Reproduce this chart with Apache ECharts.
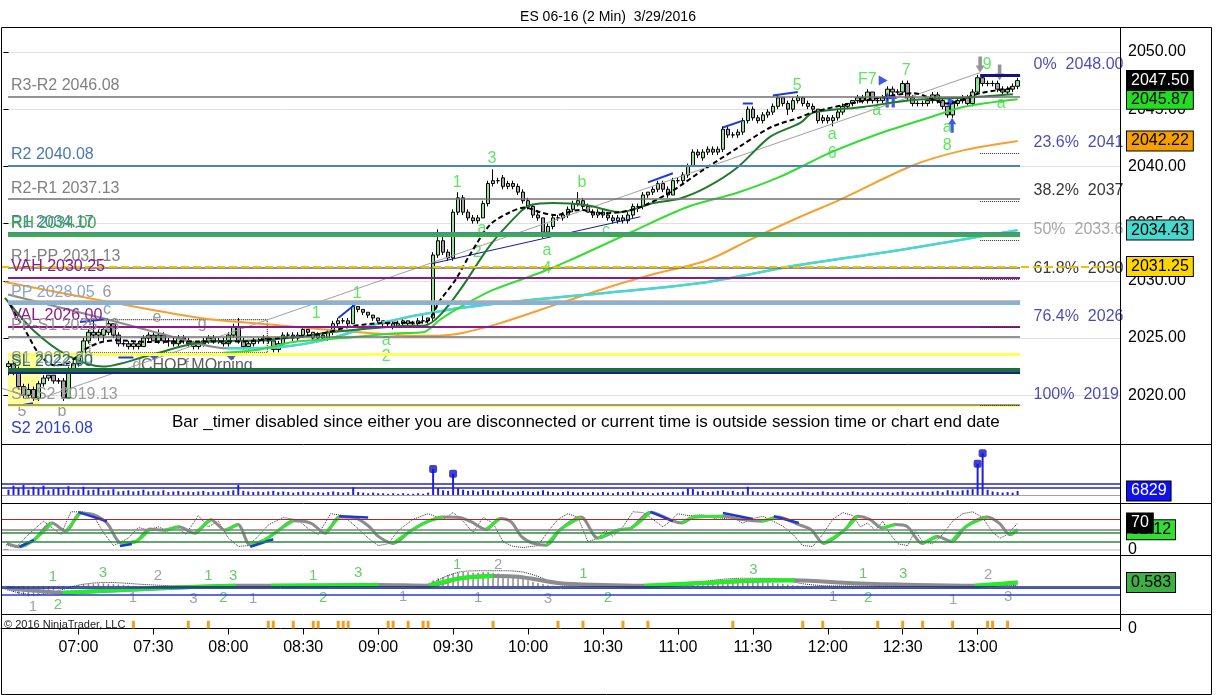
<!DOCTYPE html>
<html>
<head>
<meta charset="utf-8">
<title>ES 06-16 (2 Min)</title>
<script src="https://cdn.jsdelivr.net/npm/echarts@6.0.0/dist/echarts.min.js"></script>
<style>
html,body{margin:0;padding:0;background:#fff;}
#chart{width:1216px;height:695px;}
</style>
</head>
<body>
<div id="chart"></div>
<script>
// ================= DATA =================
const TITLE = 'ES 06-16 (2 Min)  3/29/2016';
const TIME_TICKS = ['07:00','07:30','08:00','08:30','09:00','09:30','10:00','10:30','11:00','11:30','12:00','12:30','13:00'];
const SESSION_START = '06:30';
const SLOT_MINUTES = 2;
const SLOT_COUNT = 224;
const FIRST_BAR_SLOT = 1;
const PRICE_TICKS = [2020, 2025, 2030, 2035, 2040, 2045, 2050];

// 2-minute bars: [open, high, low, close]
const BARS = [
[2022.5,2023,2021.75,2022.75],[2022.75,2023,2021.75,2022.25],[2022.25,2022.5,2020.5,2020.75],[2020.75,2021,2019.75,2020],[2020,2021,2019.75,2020.5],
[2020.5,2020.75,2019.5,2019.75],[2019.75,2021.25,2019.5,2021],[2021,2021.75,2020.75,2021.5],[2021.5,2021.75,2021.25,2021.75],[2021.75,2021.75,2021,2021.25],
[2021.25,2021.5,2021,2021.25],[2021.25,2021.5,2019.5,2019.75],[2019.75,2022.5,2019.75,2022.25],[2022.25,2023,2022,2022.75],[2022.75,2023.75,2022.5,2023.5],
[2023.5,2025,2023.5,2024.75],[2024.75,2025.75,2024.5,2025.5],[2025.5,2026.5,2025,2025.25],[2025.25,2025.75,2024.75,2025.5],[2025.25,2026,2024.75,2025.75],
[2025.5,2026.5,2025.25,2026.25],[2026.25,2026.25,2025,2025.25],[2025.25,2025.5,2024.25,2024.5],[2024.5,2024.75,2024.25,2024.5],[2024.5,2024.75,2024,2024.25],
[2024.25,2024.75,2024,2024.5],[2024.5,2024.75,2024,2024.25],[2024.25,2025.25,2024.25,2025],[2025,2025.5,2024.75,2025.25],[2025.25,2025.5,2024.75,2024.75],
[2024.75,2025.75,2024.5,2025.25],[2025.25,2025.5,2024.5,2024.75],[2024.75,2025,2024.25,2024.75],[2024.75,2025,2024.25,2024.5],[2024.5,2025.25,2024.25,2025],
[2025,2025.25,2024.5,2024.75],[2024.75,2025,2024.25,2024.5],[2024.5,2024.75,2024,2024.25],[2024.25,2024.75,2024,2024.5],[2024.5,2025,2024.25,2024.75],
[2024.75,2025.25,2024.5,2025],[2025,2025.25,2024.5,2024.75],[2024.75,2025,2024.5,2024.75],[2024.75,2025,2024.25,2024.5],[2024.5,2025.5,2024.25,2025.25],
[2025.25,2026.25,2025,2026],[2026,2026.75,2024.5,2024.75],[2024.75,2025,2024,2024.25],[2024.25,2024.75,2024,2024.5],[2024.5,2025,2024.25,2024.75],
[2024.75,2025,2024.5,2024.75],[2024.75,2025.25,2024.5,2025],[2025,2025,2024.5,2024.75],[2024.75,2024.75,2023.75,2024],[2024,2024.75,2023.75,2024.5],
[2024.5,2025.5,2024.25,2025.25],[2025.25,2025.5,2025,2025.25],[2025.25,2025.5,2024.75,2025],[2025,2025.5,2024.75,2025.25],[2025.25,2026,2025,2025.75],
[2025.75,2026,2025.25,2025.5],[2025.5,2025.5,2024.75,2025],[2025,2025.5,2024.75,2025.25],[2025.25,2025.5,2024.75,2025],[2025,2025.75,2024.75,2025.5],
[2025.5,2026.5,2025.25,2026.25],[2026.25,2026.75,2026,2026.5],[2026.5,2026.75,2026.25,2026.5],[2026.5,2026.75,2026,2026.25],[2026.25,2028,2026.25,2027.75],
[2027.75,2027.75,2027.25,2027.5],[2027.5,2027.5,2027,2027.25],[2027.25,2027.25,2026.75,2027],[2027,2027,2026.5,2026.75],[2026.75,2026.75,2026.25,2026.5],
[2026.5,2026.5,2026,2026.25],[2026.25,2026.5,2026,2026.25],[2026.25,2026.5,2025.75,2026],[2026,2026.5,2026,2026.25],[2026.25,2026.75,2026,2026.5],
[2026.5,2026.5,2026,2026.25],[2026.25,2026.5,2026,2026.25],[2026.25,2026.75,2026,2026.5],[2026.5,2027,2026.25,2026.5],[2026.5,2026.75,2026.25,2026.75],
[2026.75,2032.5,2026.5,2032.25],[2032.25,2034.5,2032,2033.5],[2033.5,2034.25,2032.25,2032.5],[2032.5,2032.75,2031.75,2032],[2032,2036.25,2031.75,2036],
[2036,2037.75,2035.75,2037.25],[2037.25,2037.5,2035.75,2036],[2036,2036.25,2035.25,2035.5],[2035.5,2035.75,2035,2035.25],[2035.25,2035.75,2035,2035.5],
[2035.5,2037,2035.5,2036.75],[2036.75,2038.75,2036.5,2038.5],[2038.5,2039.75,2038.25,2038.75],[2038.75,2039,2038.5,2038.75],[2039,2039.25,2038,2038.25],
[2038.25,2038.75,2038,2038.5],[2038.5,2038.75,2038,2038.25],[2038.25,2038.5,2037.5,2037.75],[2037.75,2038,2036.75,2037],[2037,2037.25,2036.25,2036.5],
[2036.5,2036.75,2035.5,2035.75],[2035.75,2036,2035.25,2035.5],[2035.5,2035.5,2033.75,2034.25],[2034.25,2035,2034,2034.75],[2034.75,2035.75,2034.5,2035.5],
[2035.5,2035.75,2035.25,2035.5],[2035.5,2036,2035.25,2035.75],[2035.75,2036.5,2035.5,2036.25],[2036.25,2037,2036,2036.75],[2036.75,2037.75,2036.5,2037],
[2037,2037.25,2036.25,2036.5],[2036.5,2036.75,2036,2036],[2036,2036.25,2035.5,2035.75],[2035.75,2036.25,2035.5,2036],[2036,2036.25,2035.5,2035.75],
[2035.75,2036,2035.25,2035.5],[2035.5,2035.75,2035,2035.25],[2035.25,2035.75,2035,2035.5],[2035.5,2035.75,2035,2035.25],[2035.25,2036,2035,2035.75],
[2035.75,2036.75,2035.5,2036.5],[2036.5,2036.75,2036,2036.5],[2036.5,2037.75,2036.25,2037.5],[2037.5,2037.75,2037.25,2037.75],[2037.75,2038.25,2037.5,2038],
[2038,2038.75,2037.75,2038.5],[2038.5,2038.75,2037.75,2038],[2038,2038.25,2037.25,2037.5],[2037.5,2039,2037.5,2038.75],[2038.75,2039,2038.5,2038.75],
[2038.75,2039.5,2038.5,2039.25],[2039.25,2040.25,2039,2040],[2040,2041.5,2040,2041.25],[2041.25,2041.5,2040.75,2041],[2040.75,2041.5,2040.5,2041.25],
[2041.25,2041.75,2041,2041.5],[2041.5,2041.75,2041,2041.25],[2041.25,2041.75,2041,2041.5],[2041.5,2043.5,2041.25,2043.25],[2043.25,2043.5,2042.5,2042.75],
[2042.75,2043,2042.5,2042.75],[2042.75,2043.25,2042.5,2043],[2043,2044.25,2042.75,2044],[2044,2045.25,2043.75,2045],[2045,2045.25,2044,2044.25],
[2044.25,2044.5,2043.75,2044],[2044,2044.75,2043.75,2044.5],[2044.5,2045,2044.25,2044.75],[2044.75,2045.5,2044.5,2045.25],[2045.25,2046.25,2045,2046],
[2046,2046,2045.25,2045.5],[2045.5,2045.75,2044.5,2045],[2045,2046,2044.75,2045.75],[2045.75,2046.25,2045.5,2046],[2046,2046,2045.25,2045.5],
[2045.5,2045.75,2045,2045.25],[2045.25,2045.5,2044.75,2045],[2045,2045,2043.75,2044],[2044,2044.5,2043.75,2044.25],[2044.25,2044.5,2043.75,2044],
[2044,2044.5,2043.5,2044.25],[2044.25,2045,2044,2044.75],[2044.75,2045.5,2044.5,2045.25],[2045.25,2045.5,2045,2045.5],[2045.5,2045.75,2045.25,2045.75],
[2045.75,2046.25,2045.5,2046],[2046,2046.25,2045.5,2045.75],[2045.75,2046.75,2045.5,2046.5],[2046.5,2046.5,2045.5,2045.75],[2045.75,2046,2045.5,2045.75],
[2045.75,2046.25,2045.5,2046],[2046,2047,2045.75,2046.75],[2046.75,2047,2046.25,2046.5],[2046.5,2046.75,2046.25,2046.5],[2046.5,2047.5,2046.25,2047.25],
[2047.25,2047.5,2045.75,2046],[2046,2046.25,2045.25,2045.5],[2045.5,2045.75,2045.25,2045.5],[2045.5,2045.75,2045.25,2045.5],[2045.5,2046,2045.25,2045.75],
[2045.75,2046.5,2045.5,2046.25],[2046.25,2046.5,2045.5,2045.75],[2045.75,2046,2045,2045.25],[2045.25,2045.25,2044.25,2044.5],[2044.5,2045.75,2044.25,2045.5],
[2045.5,2046,2045.25,2045.75],[2045.75,2046.25,2045.5,2046],[2046,2046.25,2045.25,2045.5],[2045.5,2046.75,2045.25,2046.5],[2046.5,2048,2046.25,2047.75],
[2047.75,2048,2047,2047.25],[2047.25,2047.5,2047,2047.25],[2047.25,2047.5,2047,2047.25],[2047.25,2047.5,2046.5,2046.75],[2046.75,2047,2046.25,2046.5],
[2046.5,2047,2046.25,2046.75],[2046.75,2047.25,2046.5,2047],[2047,2047.75,2046.75,2047.5]
];

const VOLUME = [
9000,16000,12000,17000,9000,14000,11000,16000,8000,10000,12000,9000,15000,8000,9000,
14000,8000,9000,12000,7000,8000,10000,6000,7000,8000,6000,7000,9000,6000,7000,
6000,8000,5000,6000,7000,5000,6000,5000,6000,7000,5000,6000,5000,6000,7000,
8000,17000,7000,6000,5000,6000,5000,6000,7000,5000,6000,5000,4000,5000,6000,
5000,4000,5000,4000,5000,6000,5000,4000,5000,13000,5000,4000,3000,4000,3000,
3000,2000,3000,2000,3000,2000,2000,3000,2000,4000,
44000,12000,8000,7000,36000,12000,9000,7000,8000,6000,9000,8000,7000,6000,8000,
6000,5000,6000,7000,6000,5000,6000,8000,6000,5000,4000,5000,6000,5000,4000,
5000,4000,5000,4000,5000,4000,3000,5000,4000,5000,6000,4000,5000,4000,3000,
4000,5000,4000,5000,4000,6000,11000,10000,6000,7000,5000,6000,7000,8000,6000,
7000,5000,6000,14000,6000,5000,4000,5000,4000,5000,4000,5000,4000,5000,6000,
5000,4000,5000,6000,5000,4000,5000,4000,5000,6000,5000,4000,5000,4000,5000,
4000,5000,4000,5000,6000,5000,4000,5000,6000,5000,6000,7000,5000,8000,7000,
6000,8000,9000,10000,53000,71000,9000,6000,5000,4000,5000,4000,6829
];
const VOLUME_LEVELS = [19900, 13100];

// moving averages read at points: [slot, price]
const MA_FAST = [[1.3,2027.9],[4.3,2025.7],[7.3,2023.5],[10.3,2022.6],[13.3,2022.9],[16.3,2024.0],[19.3,2024.6],[22.3,2024.8],[29.3,2024.65],[39.3,2024.7],[47.4,2024.7],[55.4,2025.0],[63.4,2025.35],[69.4,2026.0],[75.4,2026.3],[84.4,2026.4],[87.4,2028.3],[90.5,2030.1],[93.4,2032.3],[97.4,2034.9],[101.4,2036.0],[104.4,2036.4],[107.4,2036.0],[110.4,2035.75],[115.4,2036.2],[119.4,2035.9],[123.4,2036.0],[127.3,2036.4],[133.3,2037.7],[140.1,2039.7],[146.9,2041.6],[153.5,2043.4],[159.5,2044.3],[162.1,2044.75],[168.5,2045.4],[175.5,2046.0],[182.1,2046.4],[188.9,2045.5],[195.5,2046.4],[202.2,2046.85]];
const MA_MID = [[0.3,2028.5],[5.9,2025.7],[12.7,2023.5],[19.9,2022.5],[29.3,2023.5],[39.3,2024.6],[51.4,2024.8],[59.4,2025.1],[65.4,2025.5],[79.4,2026.05],[84.4,2026.1],[87.4,2027.0],[91.4,2029.2],[97.4,2033.1],[103.4,2036.0],[105.4,2036.6],[110,2036.8],[116.8,2036.6],[123.4,2036.0],[130.1,2036.8],[135.5,2037.2],[140.9,2038.2],[146.9,2039.9],[153.5,2042.6],[159.5,2043.8],[162.1,2044.7],[172.1,2045.2],[182.1,2045.8],[192.1,2046.0],[202.1,2046.3]];
const MA_SLOW = [[44,2023.7],[51.4,2024.0],[58,2024.65],[68,2025.0],[78,2025.4],[84,2025.5],[87.4,2026.6],[91.4,2027.7],[98,2029.2],[107.4,2030.7],[113.4,2031.8],[125.4,2034.2],[136.9,2036.45],[146.9,2037.7],[155.5,2039.1],[165.5,2041.2],[175.5,2042.9],[185.5,2044.3],[192.1,2045.2],[203,2045.87]];
const MA_ORANGE = [[0.3,2029.9],[19.3,2028.3],[39.3,2026.75],[55.4,2026.1],[65.4,2025.7],[79.4,2025.25],[85.4,2025.2],[91.4,2025.4],[99.4,2026.3],[107.4,2027.45],[119.4,2029.2],[129.5,2030.5],[140.9,2031.8],[149.5,2033.6],[159.5,2035.6],[167.5,2037.1],[182.1,2040.1],[192.1,2041.4],[203,2042.22]];
const MA_LONG = [[0.9,2028.8],[19.3,2026.8],[32.7,2025.25],[44.7,2024.1],[55,2024.2],[65,2024.9],[75.4,2026.3],[89.4,2027.5],[107.4,2028.4],[119.4,2028.9],[139.5,2029.8],[159.5,2031.4],[179.5,2032.7],[203,2034.43]];

// trend lines [slot, price]
const TREND_GRAY = [[[-0.3,2020.6],[6.7,2019.6]],[[6.7,2019.6],[195.5,2048.2]]];
const TREND_BLUE = [[85.8,2031.5],[127.5,2035.6]];
const DIVERGENCE_LINES = [[[3.3,2019.1],[5.9,2019.3]],[[15.3,2026.4],[20.9,2026.65]],[[67,2026.75],[71,2028.15]],[[129,2038.6],[134,2039.4]],[[144,2043.4],[148,2044.0]],[[148,2045.5],[150,2045.5]],[[154,2046.2],[159,2046.5]],[[23,2023.3],[26,2023.3]]];

// pivot / value-area levels
const LEVEL_NAMES  = ['R3-R2','R2','R2-R1','R1','RH','R1-PP','VAH','PP','VAL','PP-S1','S1','SL','S1-S2','S2'];
const LEVEL_VALUES = [2046.08,2040.08,2037.13,2034.17,2034.00,2031.13,2030.25,2028.05,2026.00,2025.13,2022.20,2022.00,2019.13,2016.08];
const EXTRA_LINES  = [2028.25, 2023.55, 2019.10];   // orange, yellow, yellow (unlabelled)
const SESSION_LINE = 2031.25;
const LEVEL_RANGE = [0.9, 203.5];
const HIGHLIGHT_BOX = [[0.9,2019.13],[7.4,2023.55]];
const CHOP_BOX = [[17.3,2023.7],[52.8,2026.6]];

// Fibonacci
const FIB_PCTS  = ['0%','23.6%','38.2%','50%','61.8%','76.4%','100%'];
const FIB_TEXTS = ['2048.00','2041','2037','2033.6','2030','2026','2019'];
const FIB_VALUES = [2048.00,2041.19,2036.98,2033.58,2030.17,2025.96,2019.15];
const FIB_RANGE = [195.5, 203.5];
const FIB_TEXT_SLOT = 206.2;

// wave annotations [slot, price, text]
const GREEN_LABELS = [[90.8,2038.6,'1'],[97.8,2040.7,'3'],[70.8,2028.9,'1'],[62.6,2027.1,'1'],[76.6,2024.8,'a'],[76.6,2023.4,'2'],[95.8,2034.6,'a'],[94.8,2032.5,'2'],[108.8,2032.6,'a'],[108.8,2031.1,'4'],[115.8,2038.6,'b'],[120.6,2034.35,'c'],[158.9,2047.1,'5'],[165.9,2042.75,'a'],[165.9,2041.1,'6'],[172.9,2047.6,'F7'],[180.7,2048.4,'7'],[174.8,2044.9,'a'],[188.9,2043.4,'a'],[188.9,2041.8,'8'],[196.9,2048.9,'9'],[199.7,2045.5,'a']];
const GRAY_LABELS = [[20.7,2029.0,'6'],[20.7,2027.45,'c'],[30.7,2026.8,'e'],[39.8,2026.3,'g'],[3.7,2018.6,'5'],[11.7,2018.6,'b'],[26.7,2022.6,'d'],[36.7,2022.6,'f']];
const TEXT_LABELS = [[27.5,2022.6,'CHOP'],[37.6,2022.6,'MOrning']];
const UP_ARROWS = [[189.9,2043.6],[176.9,2045.8],[178.1,2045.8]];
const DOWN_ARROWS = [[195.5,2048.9],[199.4,2048.2]];
const FLAGS = [[176.1,2047.5],[189.9,2045.6]];
const WEDGES = [[30.2,2023.3],[45.6,2023.3]];

// stochastics [slot, value]
const STOCH_D = [[0.7,16],[3.2,7],[6.1,25],[9.7,70],[12.5,48],[15.4,97],[17.9,93],[20.7,70],[23.6,17],[26.5,21],[29.3,54],[32.2,51],[35.1,60],[38.3,43],[41.5,79],[44.4,51],[46.9,66],[49.4,12],[52.2,25],[55.1,51],[58,76],[61.5,70],[64.4,43],[67.2,86],[70.1,85],[73,63],[75.1,34],[78,16],[81.5,49],[85.1,75],[88,86],[91.2,85],[93.7,73],[96.6,53],[99.4,82],[101.6,73],[103.7,34],[105.9,17],[108.7,11],[111.4,52],[115.6,86],[119,30],[123.2,52],[125.7,57],[129.5,99],[134.1,75],[135.7,70],[138.3,86],[144.1,88],[147.5,80],[151.7,75],[155,86],[159.2,66],[161.7,52],[164.2,16],[168.4,52],[170.9,88],[173.4,80],[175.9,57],[178.5,66],[180.9,61],[183.9,16],[186.9,34],[189.8,21],[192.7,61],[196.9,86],[199.3,70],[201.5,39],[203,52.12]];
const STOCH_K = [[0.5,12],[2.5,5],[5,40],[8,75],[10,55],[11.5,40],[13.5,100],[16,100],[18,90],[20,45],[22,10],[25,30],[27,58],[29,52],[31,60],[33,48],[34.5,62],[36.5,40],[39,90],[41,60],[43,75],[45,30],[47,8],[49,10],[51,35],[53,65],[56,85],[59,78],[61,55],[63,40],[65.5,95],[68,90],[71,55],[73,30],[75,10],[77,15],[79,50],[82,80],[85,95],[88,80],[90,98],[92,75],[94,45],[96,85],[98,70],[100,20],[102,8],[104,5],[107,10],[109,48],[111,80],[113,95],[115,85],[117,20],[119,30],[120.5,50],[122,35],[124,60],[126,100],[128,98],[130,80],[132,60],[133,70],[135,95],[137,90],[140,92],[143,80],[146,85],[148,70],[150,82],[152,88],[154,75],[156,62],[158,40],[160,10],[162,8],[164,40],[166,80],[168,98],[170,90],[171.5,60],[173,70],[174.5,50],[176,75],[177.5,40],[179,15],[181,10],[182.5,50],[184,20],[186,15],[188,40],[190,75],[192,95],[194,100],[196,85],[198,45],[199.5,30],[201,40],[203,70]];
const STOCH_DIV = [[[3.2,7],[6.1,25]],[[15,99],[20.7,75]],[[23.3,9],[25.7,14.5]],[[49.4,7],[54,27]],[[67.2,88],[73,85]],[[129.5,100],[134,75]],[[144,97],[150,81]],[[154.2,88],[159.2,70]]];
const STOCH_LEVELS = [80, 53.5, 45.5, 21.5, 0];

// MACD-style panel
const MACD_LINE = [[0.7,-0.26],[6.4,-0.61],[11.8,-0.9],[20.7,-0.61],[31.5,-0.26],[46.5,0.12],[53.6,0.1],[75.1,0.22],[85.1,0.12],[91.5,1.2],[98,1.53],[103,1.43],[111.4,0.47],[119.8,0.22],[128.2,0.12],[140.8,0.55],[151.6,0.87],[158.4,0.9],[170.1,0.47],[182.7,0.22],[194.4,0.12],[203,0.583]];
const MACD_AVG = [[0,-0.3],[3,-0.9],[6,-1.2],[9,-1.0],[12,-0.4],[15,0.2],[18,0.5],[21,0.6],[24,0.5],[28,0.3],[35,0.1],[45,0.1],[60,0.1],[68,0.2],[72,0.4],[76,0.3],[84,0.1],[86,0.6],[89,1.6],[92,2.2],[96,2.3],[100,2.3],[104,2.1],[108,1.2],[111,0.3],[120,0.1],[137,0.2],[142,0.9],[148,1.2],[155,1.1],[160,0.4],[165,0.1],[175,0.05],[185,0.0],[195,0.1],[203,0.15]];
const MACD_HIST_RUNS = [
 [1,[-0.4,-0.8,-1.1,-1.3,-1.45,-1.4,-1.3,-1.1,-0.9,-0.6,-0.4,-0.2]],
 [14,[0.1,0.2,0.3,0.35,0.4,0.45,0.45,0.4,0.35,0.3,0.2,0.15,0.1]],
 [84,[0.1,0.4,0.9,1.2,1.4,1.7,1.9,2.0,2.1,2.1,2.0,2.0,2.1,2.1,2.0,1.9,1.8,1.7,1.5,1.3,1.1,0.9,0.7,0.5,0.35,0.2,0.1]],
 [137,[0.2,0.3,0.4,0.5,0.6,0.7,0.8,0.85,0.9,0.9,0.9,0.85,0.8,0.8,0.75,0.7,0.6,0.5,0.45,0.4,0.3,0.2,0.15,0.1]]
];
const MACD_LEVELS = [0, -0.3, -1.27];
const MACD_GREEN_LABELS = [[9.9,1.38,'1'],[19.9,1.97,'3'],[41,1.53,'1'],[46,1.53,'3'],[62,1.53,'1'],[71,1.97,'3'],[90.8,3.2,'1'],[116.1,1.82,'1'],[150.1,2.4,'3'],[172.1,1.82,'1'],[180.1,1.82,'3'],[10.9,-2.7,'2'],[44,-1.68,'2'],[64,-1.68,'2'],[121,-1.68,'2'],[173.1,-1.68,'2']];
const MACD_GRAY_LABELS = [[30.9,1.53,'2'],[99,3.13,'2'],[197.1,1.68,'2'],[5.9,-2.99,'1'],[25.9,-1.68,'1'],[38,-1.82,'3'],[50,-1.82,'1'],[80,-1.53,'1'],[95,-1.68,'1'],[109,-1.82,'3'],[166.1,-1.53,'1'],[190.1,-1.97,'1'],[201.1,-1.53,'3']];

// event markers (bottom panel)
const EVENT_SLOTS = [26,37,41,53,54,58,62,63,67,68,69,77,78,81,84,85,98,111,116,124,129,146,160,164,175,180,184,190,197,198,201];

// ================= BUILD =================
const FONT = 'Arial, "Liberation Sans", sans-serif';
function hhmm(min){const h=Math.floor(min/60),m=min%60;return String(h).padStart(2,'0')+':'+String(m).padStart(2,'0');}
const startMin = parseInt(SESSION_START.slice(0,2))*60 + parseInt(SESSION_START.slice(3));
const SLOTS = Array.from({length:SLOT_COUNT},(_,k)=>hhmm(startMin + k*SLOT_MINUTES));

const candleData = BARS.map((b,i)=>[i+FIRST_BAR_SLOT, b[0], b[3], b[2], b[1]]);
const volData = VOLUME.map((v,i)=>[i+FIRST_BAR_SLOT, v]);
const volSpikes = volData.filter(d=>d[1] > 30000);
const lastClose = BARS[BARS.length-1][3];

function segs(list){const out=[];list.forEach((s,i)=>{if(i>0)out.push([s[0][0],'-']);s.forEach(p=>out.push(p));});return out;}
function rising(pts){const out=[];for(let i=0;i<pts.length-1;i++){if(pts[i+1][1]>=pts[i][1]){out.push(pts[i],pts[i+1]);}else{out.push([pts[i][0],'-']);}}return out;}
function last(a){return a[a.length-1][1];}

function tag(v, text, bg, fg){
  return {yAxis:v, lineStyle:{color:'rgba(0,0,0,0)', width:0.01, opacity:1}, label:{show:true, position:'end', distance:7, formatter:text, opacity:1,
    backgroundColor:bg, color:fg, padding:[2,4,1,4], fontSize:16, fontFamily:FONT, borderColor:'#000', borderWidth:1}};
}
function hline(v, color, width, type){return {yAxis:v, lineStyle:{color:color, width:width, type:type||'solid'}, label:{show:false}};}

const LEVEL_STYLE = {
 'R3-R2':{c:'#707070',w:1.5,t:'#808080'}, 'R2':{c:'#4f81bd',w:2,t:'#4a78b0'}, 'R2-R1':{c:'#707070',w:1.5,t:'#808080'},
 'R1':{c:'#4f81bd',w:2,t:'#4a78b0'}, 'RH':{c:'#3cab4f',w:4,t:'#3cab4f'}, 'R1-PP':{c:'#707070',w:1.5,t:'#808080'},
 'VAH':{c:'#8b1a8b',w:2,t:'#8b1a8b'}, 'PP':{c:'#7fb3e8',w:4,t:'#8aa6c8'}, 'VAL':{c:'#8b1a8b',w:2,t:'#8b1a8b'},
 'PP-S1':{c:'#707070',w:1.5,t:'#909090'}, 'S1':{c:'#1d6b40',w:4,t:'#9a9a9a'}, 'SL':{c:'#1a237e',w:2,t:'#26706a'},
 'S1-S2':{c:'#808080',w:1.5,t:'#9a9a9a'}, 'S2':{c:'rgba(0,0,0,0)',w:1,t:'#2a40c8'}
};
const EXTRA_STYLE = [{c:'#f0a030',w:1.5},{c:'#ffff55',w:3},{c:'#ffff55',w:3}];

const levelLines = LEVEL_NAMES.map((n,i)=>{const s=LEVEL_STYLE[n];return [
  {coord:[LEVEL_RANGE[0], LEVEL_VALUES[i]], lineStyle:{color:s.c, width:s.w, type:'solid'},
   label:{show:true, position:'insideStartTop', distance:3, formatter:n+' '+LEVEL_VALUES[i].toFixed(2), color:s.t, opacity:1, fontSize:16, fontFamily:FONT}},
  {coord:[LEVEL_RANGE[1], LEVEL_VALUES[i]]}];});
const extraLines = EXTRA_LINES.map((v,i)=>[{coord:[LEVEL_RANGE[0],v], lineStyle:{color:EXTRA_STYLE[i].c, width:EXTRA_STYLE[i].w, type:'solid'}, label:{show:false}},{coord:[LEVEL_RANGE[1],v]}]);
const fibLines = FIB_VALUES.map((v,i)=>[{coord:[FIB_RANGE[0],v], lineStyle: i===0?{color:'#14147a',width:3,type:'solid'}:{color:'#333',width:1,type:'dotted'}, label:{show:false}},{coord:[FIB_RANGE[1],v]}]);
const FIB_COLORS = ['#1c1ca0','#1c1ca0','#000','#909090','#000','#1c1ca0','#1c1ca0'];

function textItems(list, color, size){return list.map(l=>({value:[l[0],l[1]], label:{show:true, position:'inside', formatter:l[2], color:color, fontSize:size||16, fontFamily:FONT}}));}

const histData = [];
MACD_HIST_RUNS.forEach(r=>r[1].forEach((v,j)=>histData.push([r[0]+j, v])));

const GRIDS = [
  {left:1, width:1119, top:29.12, height:411.84},
  {left:1, width:1119, top:444.7, height:58.3},
  {left:1, width:1119, top:503.3, height:52},
  {left:1, width:1119, top:555.3, height:58.7},
  {left:1, width:1119, top:614, height:17}
];
const tickFn = (i, v) => TIME_TICKS.indexOf(v) >= 0;
const xAxes = [];
for (let g=0; g<5; g++) {
  xAxes.push({gridIndex:g, type:'category', data:SLOTS, boundaryGap:true, show: g===4,
    axisLine:{show:true, lineStyle:{color:'#000'}},
    axisTick:{show:true, interval:tickFn, alignWithLabel:true, length:6, lineStyle:{color:'#000'}},
    axisLabel:{show:true, interval:tickFn, color:'#000', fontSize:16, fontFamily:FONT, margin:9},
    splitLine:{show:false}});
}
for (let g=0; g<5; g++) xAxes.push({gridIndex:g, type:'value', min:-0.5, max:SLOT_COUNT-0.5, show:false});

const yAxes = [
  {gridIndex:0, type:'value', position:'right', min:2016, max:2052, interval:1,
   axisLine:{show:false}, axisTick:{show:true, length:5, lineStyle:{color:'#000'}, customValues:PRICE_TICKS},
   axisLabel:{show:true, customValues:PRICE_TICKS, formatter:v=>(Math.abs(v%5)<1e-6? v.toFixed(2):''), color:'#000', fontSize:16, fontFamily:FONT, margin:8},
   splitLine:{show:true, lineStyle:{color:'#e0e0e0', width:1}}},
  {gridIndex:1, type:'value', position:'right', min:-13600, max:85500, show:true, axisLine:{show:false}, axisTick:{show:false}, axisLabel:{show:false}, splitLine:{show:false}},
  {gridIndex:2, type:'value', position:'right', min:-15.7, max:122.6, axisLine:{show:false},
   axisTick:{show:true, length:5, customValues:[0], lineStyle:{color:'#000'}},
   axisLabel:{show:true, customValues:[0], formatter:v=>(v===0?'0':''), color:'#000', fontSize:16, fontFamily:FONT, margin:8}, splitLine:{show:false}},
  {gridIndex:3, type:'value', position:'right', min:-4.01, max:4.55, axisLine:{show:false}, axisTick:{show:false}, axisLabel:{show:false}, splitLine:{show:false}},
  {gridIndex:4, type:'value', position:'right', min:-0.15, max:0.85, axisLine:{show:false},
   axisTick:{show:true, length:5, customValues:[0], lineStyle:{color:'#000'}},
   axisLabel:{show:true, customValues:[0], formatter:v=>(v===0?'0':''), color:'#000', fontSize:16, fontFamily:FONT, margin:8}, splitLine:{show:false}}
];

function lineSeries(xi, yi, data, color, width, type, extra){
  return Object.assign({type:'line', xAxisIndex:xi, yAxisIndex:yi, data:data, showSymbol:false, symbol:'none', smooth:0.3,
    lineStyle:{color:color, width:width, type:type||'solid'}, silent:true, connectNulls:false}, extra||{});
}
// tags: a host line series whose last point carries the tag as an end label
function tagHost(xi, yi, tags){
  return {type:'line', xAxisIndex:xi, yAxisIndex:yi, data:[], silent:true, clip:false, z:10,
    markLine:{symbol:['none','none'], silent:true, animation:false, clip:false, data:tags}};
}

const series = [
  {type:'line', xAxisIndex:5, yAxisIndex:0, data:segs(TREND_GRAY), showSymbol:false, symbol:'none', silent:true,
   lineStyle:{color:'#a0a0a0', width:1},
   markArea:{silent:true, data:[
     [{coord:HIGHLIGHT_BOX[0], itemStyle:{color:'#ffff99'}},{coord:HIGHLIGHT_BOX[1]}],
     [{coord:CHOP_BOX[0], itemStyle:{color:'rgba(0,0,0,0)', borderColor:'#000', borderWidth:1, borderType:'dotted'}},{coord:CHOP_BOX[1]}]]},
   markLine:{symbol:['none','none'], silent:true, animation:false,
     data: extraLines.concat(levelLines).concat(fibLines).concat([hline(SESSION_LINE,'#e6c400',2,'dashed')])}},
  lineSeries(5,0,TREND_BLUE,'#1a1aa0',1,'solid',{smooth:false}),
  {type:'candlestick', xAxisIndex:0, yAxisIndex:0, data:candleData, encode:{x:0, y:[1,2,3,4]}, barWidth:4,
   itemStyle:{color:'#93e393', color0:'#a6a6a6', borderColor:'#000', borderColor0:'#000', borderWidth:1}, silent:true},
  lineSeries(5,0,MA_ORANGE,'#f5a030',2),
  lineSeries(5,0,MA_LONG,'#8c8c8c',2),
  lineSeries(5,0,rising(MA_LONG),'#48d8d0',2.5),
  lineSeries(5,0,MA_SLOW,'#33dd33',2),
  lineSeries(5,0,MA_MID,'#1f7a2a',2),
  lineSeries(5,0,MA_FAST,'#000',2,[5,3]),
  lineSeries(5,0,segs(DIVERGENCE_LINES),'#1a3ad8',2,'solid',{smooth:false}),
  {type:'scatter', xAxisIndex:5, yAxisIndex:0, symbolSize:1, itemStyle:{color:'rgba(0,0,0,0)'}, silent:true, clip:false,
   data: textItems(GREEN_LABELS,'#36e036').concat(textItems(GRAY_LABELS,'#808080'))
     .concat(TEXT_LABELS.map(l=>({value:[l[0],l[1]], label:{show:true, position:'inside', align:'left', formatter:l[2], color:'#333', fontSize:16, fontFamily:FONT}})))
     .concat(FIB_VALUES.map((v,i)=>({value:[FIB_TEXT_SLOT,v], label:{show:true, position:'inside', align:'left', offset:[0,-10], formatter:FIB_PCTS[i]+'  '+FIB_TEXTS[i], color:FIB_COLORS[i], fontSize:16, fontFamily:FONT}})))},
  {type:'scatter', xAxisIndex:5, yAxisIndex:0, silent:true, symbol:'path://M5,0L10,7L7,7L7,16L3,16L3,7L0,7Z', symbolSize:[8,15], itemStyle:{color:'#1430e0'}, data:UP_ARROWS},
  {type:'scatter', xAxisIndex:5, yAxisIndex:0, silent:true, symbol:'path://M5,16L10,9L7,9L7,0L3,0L3,9L0,9Z', symbolSize:[9,16], itemStyle:{color:'#7a7a7a'}, data:DOWN_ARROWS},
  {type:'scatter', xAxisIndex:5, yAxisIndex:0, silent:true, symbol:'triangle', symbolRotate:-90, symbolSize:[10,9], itemStyle:{color:'#1430e0'}, data:FLAGS},
  {type:'scatter', xAxisIndex:5, yAxisIndex:0, silent:true, symbol:'triangle', symbolRotate:180, symbolSize:[12,6], itemStyle:{color:'#1430e0'}, data:WEDGES},
  {type:'bar', xAxisIndex:1, yAxisIndex:1, data:volData, barWidth:2, itemStyle:{color:'#1f1fdd'}, silent:true,
   markLine:{symbol:['none','none'], silent:true, animation:false, data:[
     hline(0,'#a0a0a0',1), hline(VOLUME_LEVELS[0],'#2222cc',1.5), hline(VOLUME_LEVELS[1],'#2222cc',1.5)]}},
  {type:'scatter', xAxisIndex:6, yAxisIndex:1, data:volSpikes, symbol:'roundRect', symbolSize:8, itemStyle:{color:'#1010c8'}, silent:true},
  {type:'line', xAxisIndex:7, yAxisIndex:2, data:[], silent:true,
   markLine:{symbol:['none','none'], silent:true, animation:false, data:[
     hline(STOCH_LEVELS[0],'#a52a2a',1), hline(STOCH_LEVELS[1],'#808080',1.5), hline(STOCH_LEVELS[2],'#2e8b3e',1.5),
     hline(STOCH_LEVELS[3],'#2e8b3e',1.5), hline(STOCH_LEVELS[4],'#d0d0d0',1.5)]}},
  lineSeries(7,2,STOCH_K,'#333',1,'dotted',{smooth:false}),
  lineSeries(7,2,STOCH_D,'#8c8c8c',3),
  lineSeries(7,2,rising(STOCH_D),'#33e633',3),
  lineSeries(7,2,segs(STOCH_DIV),'#1a3ad8',2.5,'solid',{smooth:false}),
  {type:'bar', xAxisIndex:3, yAxisIndex:3, data:histData, barWidth:1.5, itemStyle:{color:'#8c8c8c'}, silent:true,
   markLine:{symbol:['none','none'], silent:true, animation:false, data:[
     hline(MACD_LEVELS[0],'#1a237e',1.5), hline(MACD_LEVELS[1],'#3050d0',1), hline(MACD_LEVELS[2],'#2a3ad0',1.5)]}},
  lineSeries(8,3,MACD_AVG,'#222',1,'dotted'),
  lineSeries(8,3,MACD_LINE,'#8c8c8c',4),
  lineSeries(8,3,rising(MACD_LINE),'#22ee22',4),
  {type:'scatter', xAxisIndex:8, yAxisIndex:3, symbolSize:1, itemStyle:{color:'rgba(0,0,0,0)'}, silent:true,
   data: textItems(MACD_GREEN_LABELS,'#44bb44',15).concat(textItems(MACD_GRAY_LABELS,'#8a8a9a',15))},
  {type:'bar', xAxisIndex:4, yAxisIndex:4, data:EVENT_SLOTS.map(k=>[k,0.45]), barWidth:3, itemStyle:{color:'#f0a020'}, silent:true},
  // value tags on the right axes (drawn last)
  tagHost(5, 0, [
     tag(SESSION_LINE, SESSION_LINE.toFixed(2), '#ffd700', '#000'),
     tag(last(MA_LONG), last(MA_LONG).toFixed(2), '#48d8d0', '#000'),
     tag(last(MA_ORANGE), last(MA_ORANGE).toFixed(2), '#f5a000', '#000'),
     tag(last(MA_SLOW), last(MA_SLOW).toFixed(2), '#22dd22', '#000'),
     tag(lastClose, lastClose.toFixed(2), '#000', '#fff')]),
  tagHost(6, 1, [tag(VOLUME[VOLUME.length-1], String(VOLUME[VOLUME.length-1]), '#1010ee', '#fff')]),
  tagHost(7, 2, [
     tag(last(STOCH_D), last(STOCH_D).toFixed(2), '#33dd33', '#000'),
     tag(last(STOCH_K), String(last(STOCH_K)), '#000', '#fff')]),
  tagHost(8, 3, [tag(last(MACD_LINE), last(MACD_LINE).toFixed(3), '#3cb043', '#000')])
];

const graphic = [
  {type:'rect', shape:{x:1.5, y:27.5, width:1210, height:667}, style:{fill:'none', stroke:'#000', lineWidth:1}, z:100, silent:true},
  {type:'line', shape:{x1:1120.5, y1:27, x2:1120.5, y2:631}, style:{stroke:'#000', lineWidth:1}, z:100, silent:true},
  {type:'line', shape:{x1:1, y1:444.5, x2:1211, y2:444.5}, style:{stroke:'#000', lineWidth:1}, z:100, silent:true},
  {type:'line', shape:{x1:1, y1:503.5, x2:1211, y2:503.5}, style:{stroke:'#000', lineWidth:1}, z:100, silent:true},
  {type:'line', shape:{x1:1, y1:555.5, x2:1211, y2:555.5}, style:{stroke:'#000', lineWidth:1}, z:100, silent:true},
  {type:'line', shape:{x1:1, y1:614.5, x2:1211, y2:614.5}, style:{stroke:'#000', lineWidth:1}, z:100, silent:true},
  {type:'text', left:172, top:414, style:{text:'Bar _timer disabled since either you are disconnected or current time is outside session time or chart end date', fill:'#000', font:'17px '+FONT}, z:100, silent:true},
  {type:'text', left:4, top:619, style:{text:'\u00a9 2016 NinjaTrader, LLC', fill:'#222', font:'11px '+FONT}, z:100, silent:true}
];

const option = {
  animation:false,
  backgroundColor:'#fff',
  textStyle:{fontFamily:FONT},
  title:{text:TITLE, left:'center', top:5, textStyle:{fontSize:14, fontWeight:'normal', color:'#000', fontFamily:FONT}},
  grid:GRIDS, xAxis:xAxes, yAxis:yAxes, series:series, graphic:graphic
};
const chart = echarts.init(document.getElementById('chart'), null, {renderer:'canvas', width:1216, height:695});
chart.setOption(option);
</script>
</body>
</html>
